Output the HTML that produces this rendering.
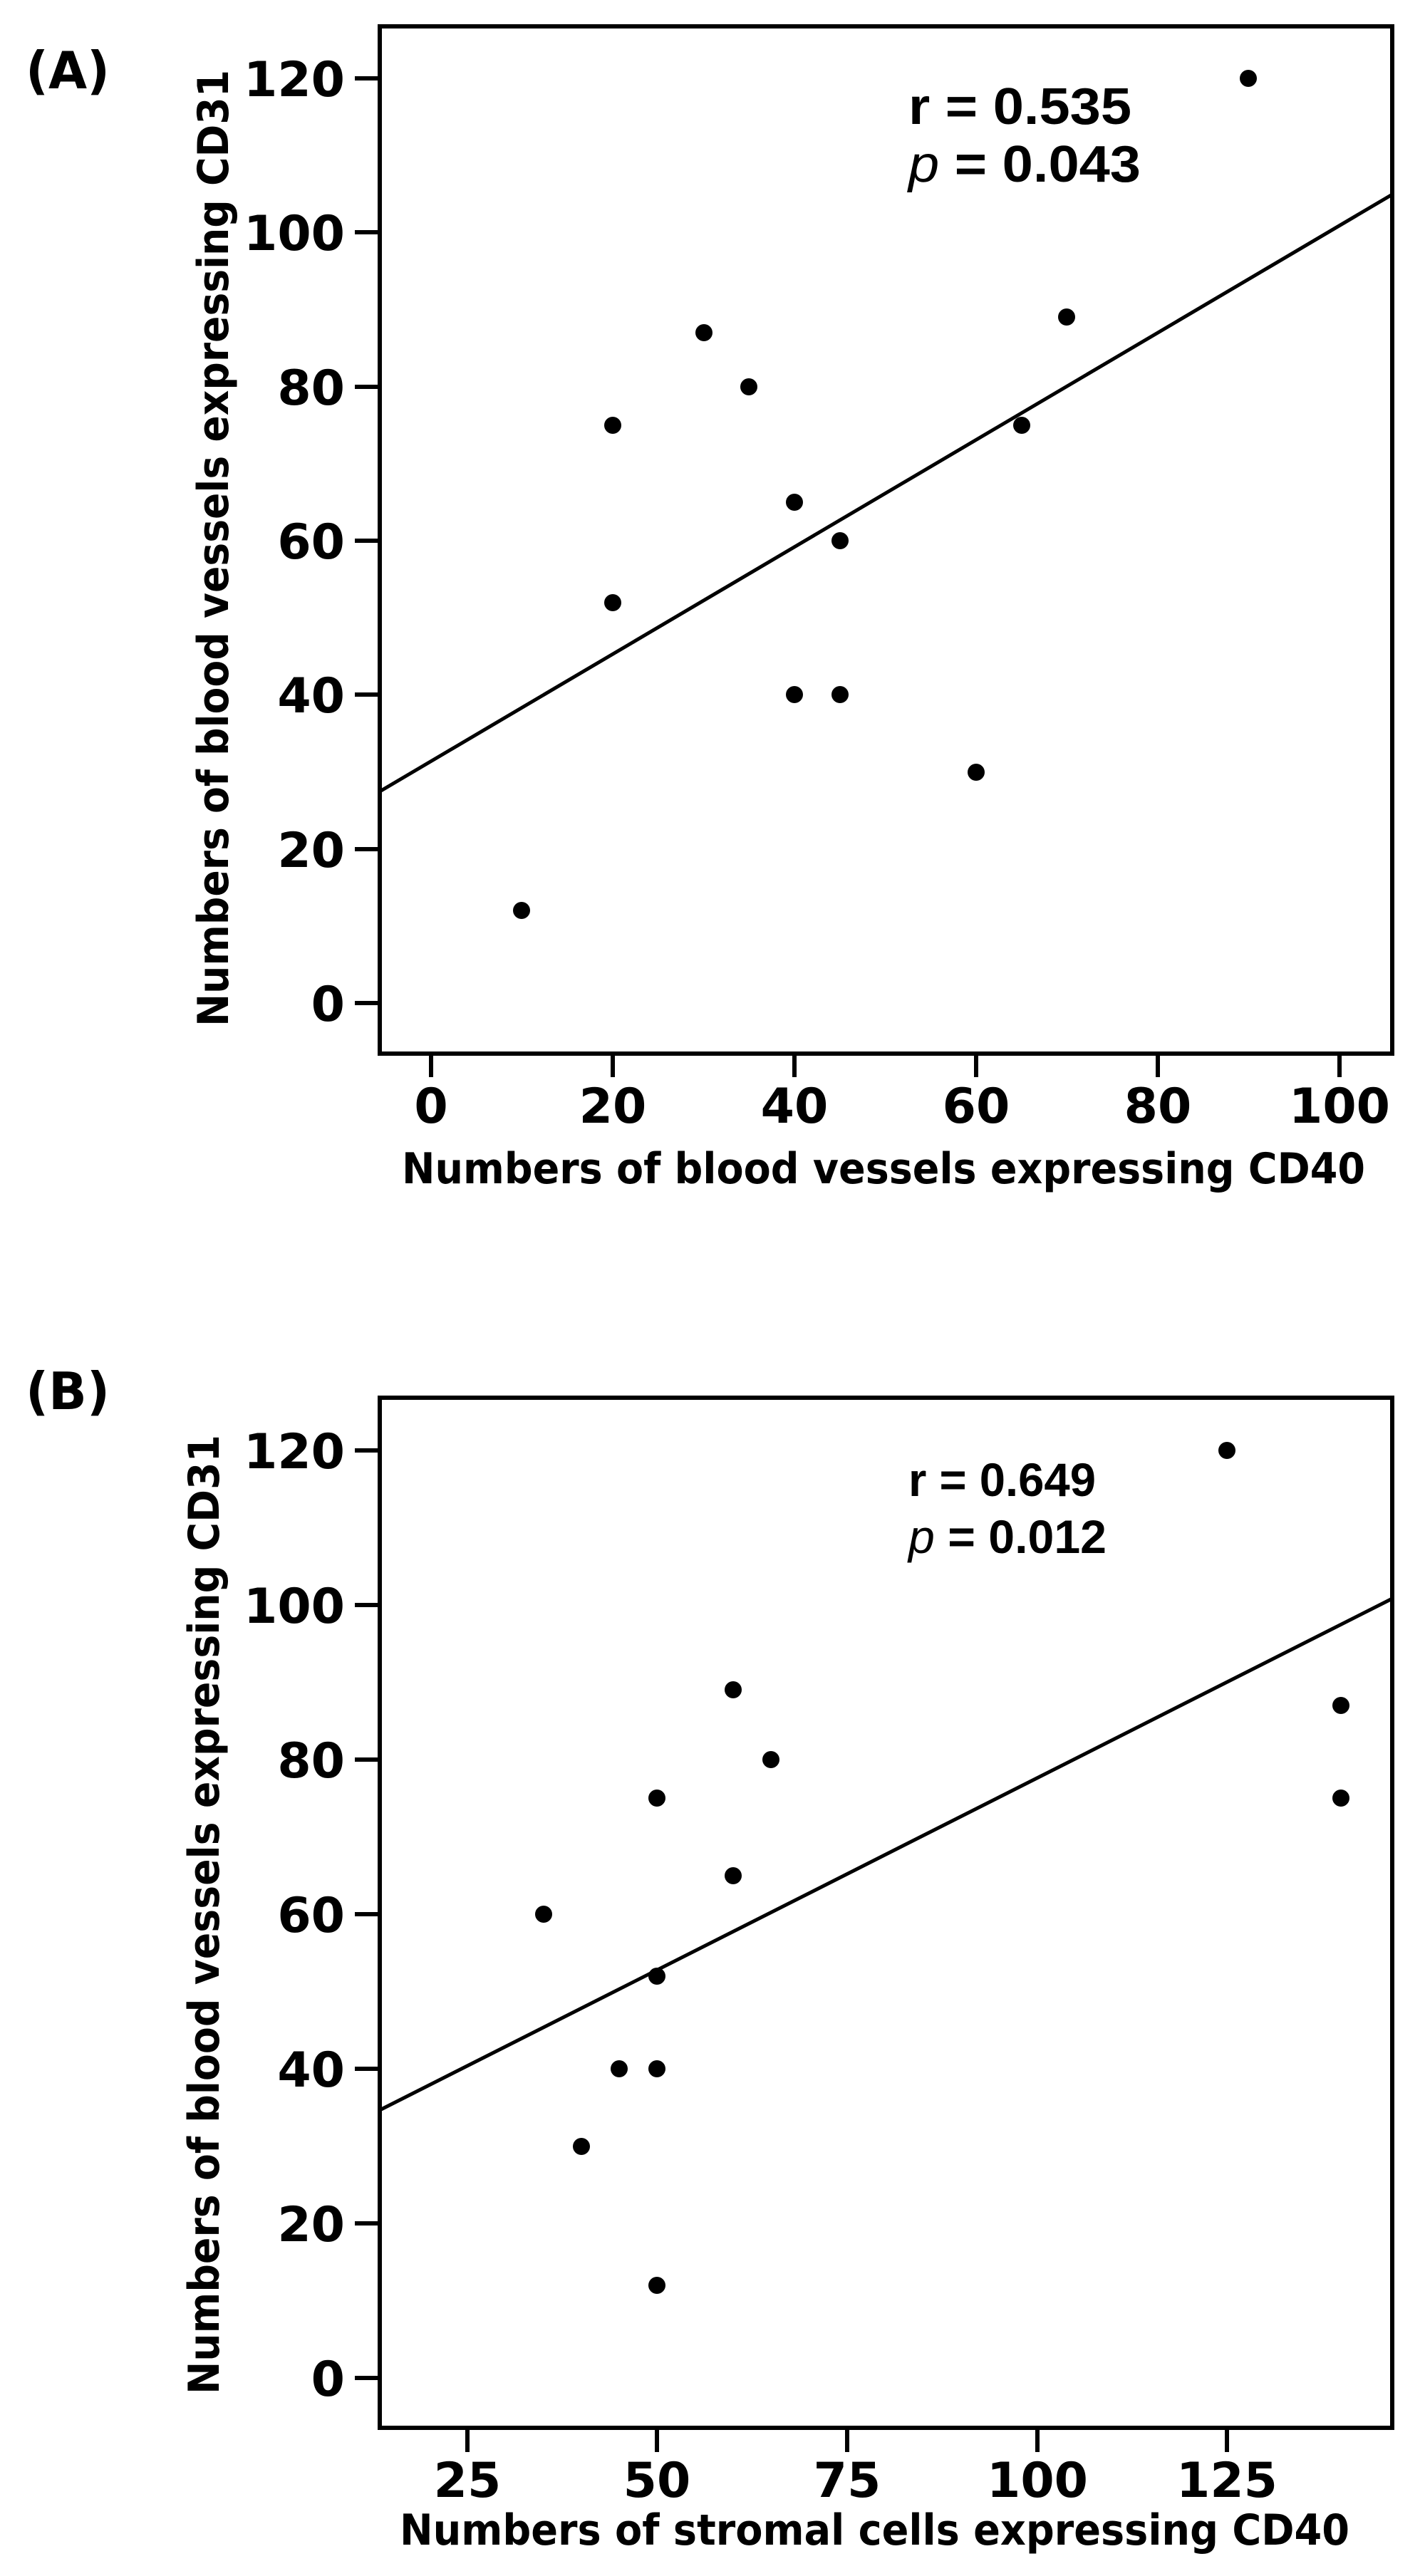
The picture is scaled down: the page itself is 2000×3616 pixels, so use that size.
<!DOCTYPE html>
<html><head><meta charset="utf-8"><style>html,body{margin:0;padding:0;background:#fff}svg{display:block}</style></head>
<body>
<svg xmlns="http://www.w3.org/2000/svg" width="2000" height="3616" viewBox="0 0 2000 3616">
<rect width="2000" height="3616" fill="#fff"/>
<g font-family="'DejaVu Sans', 'Liberation Sans', sans-serif" font-weight="bold" fill="#000">
<!-- Panel A -->
<text x="36" y="124" font-size="72" font-family="'DejaVu Sans', sans-serif" textLength="118" lengthAdjust="spacingAndGlyphs">(A)</text>
<rect x="533" y="37" width="1421" height="1442" fill="none" stroke="#000" stroke-width="6"/>
<g stroke="#000" stroke-width="6">
<line x1="498" y1="110" x2="533" y2="110"/><line x1="498" y1="326" x2="533" y2="326"/>
<line x1="498" y1="543" x2="533" y2="543"/><line x1="498" y1="759" x2="533" y2="759"/>
<line x1="498" y1="975" x2="533" y2="975"/><line x1="498" y1="1192" x2="533" y2="1192"/>
<line x1="498" y1="1408" x2="533" y2="1408"/>
<line x1="605" y1="1479" x2="605" y2="1512"/><line x1="860" y1="1479" x2="860" y2="1512"/>
<line x1="1115" y1="1479" x2="1115" y2="1512"/><line x1="1370" y1="1479" x2="1370" y2="1512"/>
<line x1="1625" y1="1479" x2="1625" y2="1512"/><line x1="1880" y1="1479" x2="1880" y2="1512"/>
<line x1="533" y1="1111" x2="1954" y2="273" stroke-width="5"/>
</g>
<g font-size="68" text-anchor="end">
<text x="484" y="135">120</text><text x="484" y="351">100</text><text x="484" y="568">80</text>
<text x="484" y="784">60</text><text x="484" y="1000">40</text><text x="484" y="1217">20</text>
<text x="484" y="1433">0</text>
</g>
<g font-size="68" text-anchor="middle">
<text x="605" y="1576">0</text><text x="860" y="1576">20</text><text x="1115" y="1576">40</text>
<text x="1370" y="1576">60</text><text x="1625" y="1576">80</text><text x="1880" y="1576">100</text>
</g>
<text x="564" y="1661" font-size="60" textLength="1352" lengthAdjust="spacingAndGlyphs">Numbers of blood vessels expressing CD40</text>
<text transform="translate(320,1441) rotate(-90)" x="0" y="0" font-size="60" textLength="1343" lengthAdjust="spacingAndGlyphs">Numbers of blood vessels expressing CD31</text>
<g font-family="'Liberation Sans', sans-serif" font-size="72">
<text x="1275" y="174" textLength="313" lengthAdjust="spacingAndGlyphs">r = 0.535</text>
<text x="1275" y="255" textLength="326" lengthAdjust="spacingAndGlyphs"><tspan font-style="italic" font-weight="normal">p</tspan> = 0.043</text>
</g>
<g>
<circle cx="732" cy="1278" r="12"/><circle cx="860" cy="597" r="12"/><circle cx="860" cy="846" r="12"/>
<circle cx="988" cy="467" r="12"/><circle cx="1051" cy="543" r="12"/><circle cx="1115" cy="705" r="12"/>
<circle cx="1115" cy="975" r="12"/><circle cx="1179" cy="759" r="12"/><circle cx="1179" cy="975" r="12"/>
<circle cx="1370" cy="1084" r="12"/><circle cx="1434" cy="597" r="12"/><circle cx="1497" cy="445" r="12"/>
<circle cx="1752" cy="110" r="12"/>
</g>

<!-- Panel B -->
<text x="36" y="1978" font-size="72" font-family="'DejaVu Sans', sans-serif" textLength="118" lengthAdjust="spacingAndGlyphs">(B)</text>
<rect x="533" y="1962" width="1421" height="1446" fill="none" stroke="#000" stroke-width="6"/>
<g stroke="#000" stroke-width="6">
<line x1="498" y1="2036" x2="533" y2="2036"/><line x1="498" y1="2253" x2="533" y2="2253"/>
<line x1="498" y1="2470" x2="533" y2="2470"/><line x1="498" y1="2687" x2="533" y2="2687"/>
<line x1="498" y1="2904" x2="533" y2="2904"/><line x1="498" y1="3121" x2="533" y2="3121"/>
<line x1="498" y1="3338" x2="533" y2="3338"/>
<line x1="656" y1="3408" x2="656" y2="3442"/><line x1="922" y1="3408" x2="922" y2="3442"/>
<line x1="1189" y1="3408" x2="1189" y2="3442"/><line x1="1456" y1="3408" x2="1456" y2="3442"/>
<line x1="1722" y1="3408" x2="1722" y2="3442"/>
<line x1="533" y1="2962" x2="1954" y2="2244" stroke-width="5"/>
</g>
<g font-size="68" text-anchor="end">
<text x="484" y="2061">120</text><text x="484" y="2278">100</text><text x="484" y="2495">80</text>
<text x="484" y="2712">60</text><text x="484" y="2929">40</text><text x="484" y="3146">20</text>
<text x="484" y="3363">0</text>
</g>
<g font-size="68" text-anchor="middle">
<text x="656" y="3505">25</text><text x="922" y="3505">50</text><text x="1189" y="3505">75</text>
<text x="1456" y="3505">100</text><text x="1722" y="3505">125</text>
</g>
<text x="561" y="3572" font-size="60" textLength="1333" lengthAdjust="spacingAndGlyphs">Numbers of stromal cells expressing CD40</text>
<text transform="translate(307,3361) rotate(-90)" x="0" y="0" font-size="60" textLength="1347" lengthAdjust="spacingAndGlyphs">Numbers of blood vessels expressing CD31</text>
<g font-family="'Liberation Sans', sans-serif" font-size="66">
<text x="1275" y="2100" textLength="263" lengthAdjust="spacingAndGlyphs">r = 0.649</text>
<text x="1275" y="2180" textLength="278" lengthAdjust="spacingAndGlyphs"><tspan font-style="italic" font-weight="normal">p</tspan> = 0.012</text>
</g>
<g>
<circle cx="763" cy="2687" r="12"/><circle cx="816" cy="3013" r="12"/><circle cx="869" cy="2904" r="12"/>
<circle cx="922" cy="2524" r="12"/><circle cx="922" cy="2774" r="12"/><circle cx="922" cy="2904" r="12"/>
<circle cx="922" cy="3208" r="12"/><circle cx="1029" cy="2372" r="12"/><circle cx="1029" cy="2633" r="12"/>
<circle cx="1082" cy="2470" r="12"/><circle cx="1722" cy="2036" r="12"/><circle cx="1882" cy="2394" r="12"/>
<circle cx="1882" cy="2524" r="12"/>
</g>
</g>
</svg>
</body></html>
